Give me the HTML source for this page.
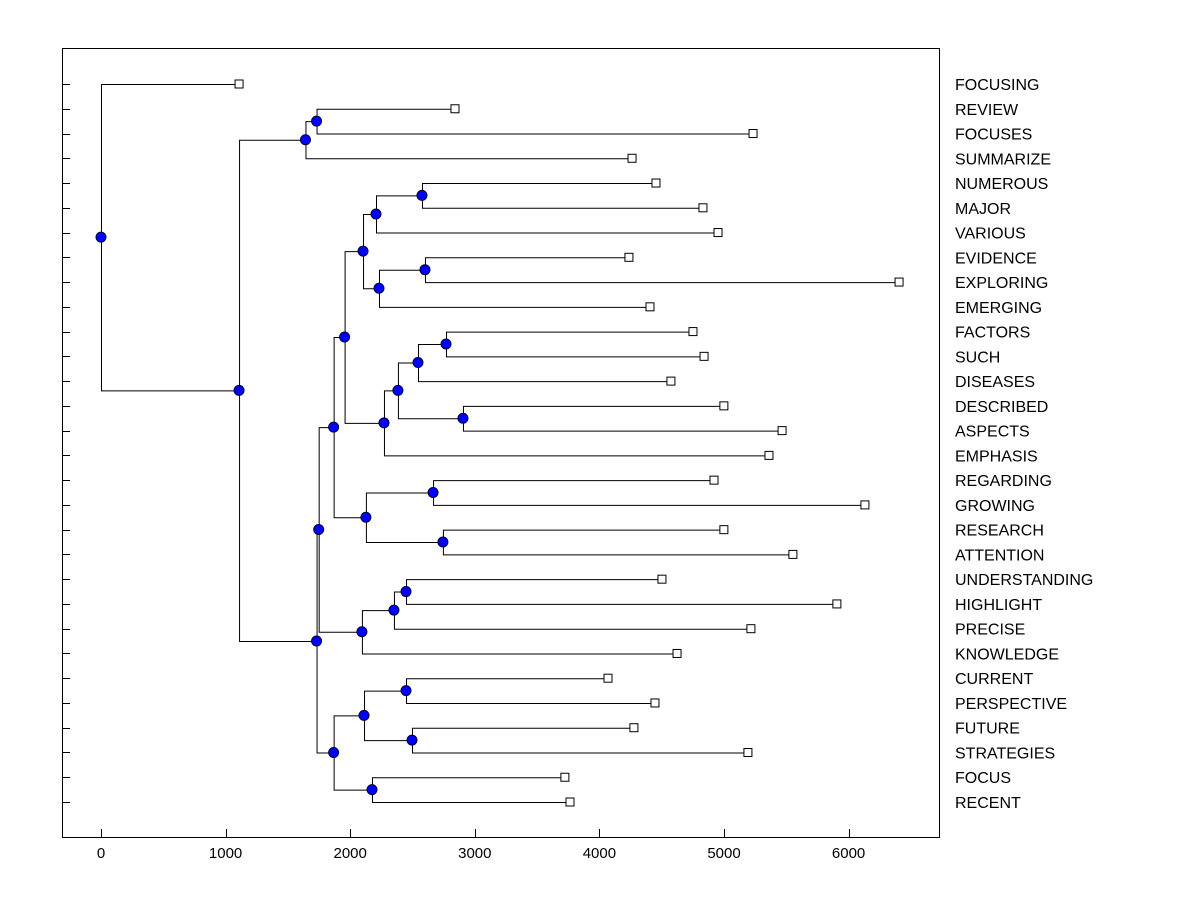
<!DOCTYPE html>
<html><head><meta charset="utf-8">
<style>
html,body{margin:0;padding:0;background:#fff;}
svg{display:block;font-family:"Liberation Sans",Arial,sans-serif;}
</style></head>
<body>
<svg id="chart" width="1200" height="900" viewBox="0 0 1200 900" xmlns="http://www.w3.org/2000/svg">
<rect x="62.5" y="48.5" width="877" height="789" fill="none" stroke="#000" stroke-width="1"/>
<g id="axes"></g>
<g id="links"></g>
<g id="marks"></g>
</svg>
<script>
const leafNames = ["FOCUSING","REVIEW","FOCUSES","SUMMARIZE","NUMEROUS","MAJOR","VARIOUS","EVIDENCE","EXPLORING","EMERGING","FACTORS","SUCH","DISEASES","DESCRIBED","ASPECTS","EMPHASIS","REGARDING","GROWING","RESEARCH","ATTENTION","UNDERSTANDING","HIGHLIGHT","PRECISE","KNOWLEDGE","CURRENT","PERSPECTIVE","FUTURE","STRATEGIES","FOCUS","RECENT"];
const leafValues = [1108,2841,5233,4262,4454,4831,4952,4237,6405,4406,4751,4840,4574,4999,5466,5361,4920,6131,4999,5553,4502,5906,5216,4623,4069,4446,4277,5192,3723,3764];
const mergeIds = ["D","B","O","M","P","N","K","T","R","S","Q","L","I","U","V","J","G","Y","X","W","E","AB","AC","Z","AA","F","C","A","ROOT"];
const mergeLeft = ["REVIEW","D","NUMEROUS","O","EVIDENCE","P","M","FACTORS","T","DESCRIBED","R","Q","K","REGARDING","RESEARCH","U","I","UNDERSTANDING","Y","X","G","CURRENT","FUTURE","AB","FOCUS","Z","E","B","FOCUSING"];
const mergeRight = ["FOCUSES","SUMMARIZE","MAJOR","VARIOUS","EXPLORING","EMERGING","N","SUCH","DISEASES","ASPECTS","S","EMPHASIS","L","GROWING","ATTENTION","V","J","HIGHLIGHT","PRECISE","KNOWLEDGE","W","PERSPECTIVE","STRATEGIES","AC","RECENT","AA","F","C","A"];
const mergeHeights = [1730,1641,2576,2207,2600,2231,2103,2769,2544,2905,2383,2271,1955,2665,2744,2126,1867,2448,2351,2094,1747,2448,2496,2111,2175,1867,1730,1108,0];
const xTicks = [0,1000,2000,3000,4000,5000,6000];

const NS="http://www.w3.org/2000/svg";
const xS = v => 101 + v*0.1246;
const yS = i => 84 + i*(802-84)/29;
function mk(tag, attrs, parent){const e=document.createElementNS(NS,tag);for(const k in attrs)e.setAttribute(k,attrs[k]);parent.appendChild(e);return e;}
const axes=document.getElementById('axes'), links=document.getElementById('links'), marks=document.getElementById('marks');

xTicks.forEach(t=>{
  const x=Math.round(xS(t))+0.5;
  const tk=mk('line',{x1:x,x2:x,y1:837,y2:829,stroke:'#000'},axes);
  
  
  const tx=mk('text',{x:xS(t),y:858,'text-anchor':'middle','font-size':'15'},axes);
  tx.textContent=t;
  
  
});

const pos={};
leafNames.forEach((n,i)=>{
  const y=yS(i);
  pos[n]={x:xS(leafValues[i]),y:y};
  const tk=mk('line',{x1:62,x2:70,y1:Math.round(y)+0.5,y2:Math.round(y)+0.5,stroke:'#000'},axes);
  
  
  const tx=mk('text',{x:955,y:y+6,'font-size':'16'},axes);
  tx.textContent=n;
  
  
});

const nodePts=[];
mergeIds.forEach((id,i)=>{
  const a=pos[mergeLeft[i]], b=pos[mergeRight[i]];
  const x=xS(mergeHeights[i]);
  const y=(a.y+b.y)/2;
  pos[id]={x:x,y:y};
  const p=mk('path',{d:`M${a.x},${a.y+0.5}H${x+0.5}V${b.y+0.5}H${b.x}`,fill:'none',stroke:'#000','stroke-width':1},links);
  
  
  nodePts.push([x,y]);
});
nodePts.forEach(([x,y])=>{
  const c=mk('circle',{cx:x,cy:y,r:5,fill:'#0000ff',stroke:'#000033','stroke-width':1},marks);
  
  
});
leafNames.forEach(n=>{
  const p=pos[n];
  const r=mk('rect',{x:p.x-4,y:p.y-4,width:8,height:8,fill:'#fff',stroke:'#000','stroke-width':1},marks);
  
  
});
</script>
</body></html>
